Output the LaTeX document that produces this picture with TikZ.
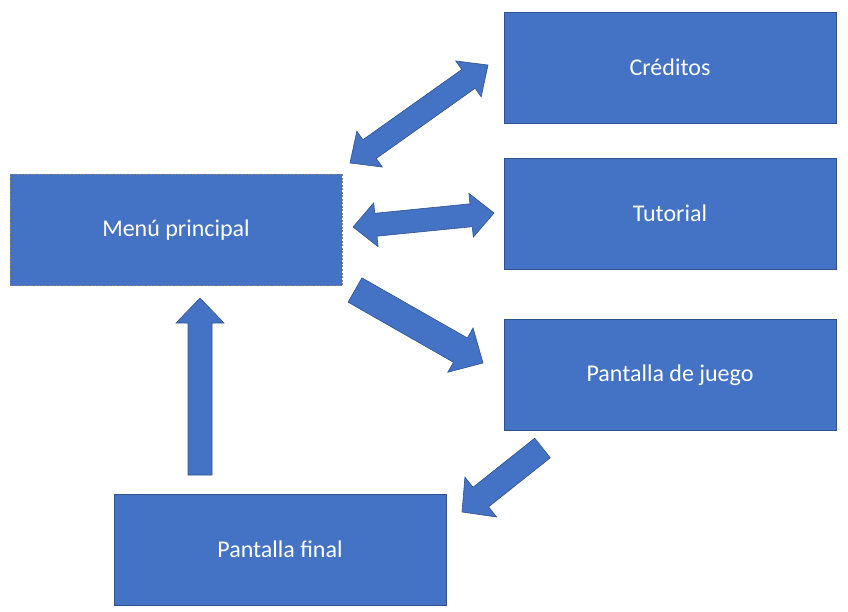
\documentclass[tikz,border=0pt]{standalone}
\usepackage{fontspec}
\setmainfont{Carlito}
\usetikzlibrary{calc}
\definecolor{boxfill}{HTML}{4472C4}
\definecolor{boxline}{HTML}{2F528F}
\definecolor{dashgray}{HTML}{7F7F7F}
\tikzset{
  screenbox/.style={draw=boxline, line width=0.75pt, fill=boxfill, minimum width=332pt, minimum height=111pt, inner sep=0pt, text=white, font=\fontsize{24}{28}\selectfont},
  mainbox/.style={screenbox, draw=dashgray, dashed, dash pattern=on 2pt off 1.5pt},
  blockarrow/.style={fill=boxfill, draw=boxline, line width=0.6pt, line join=miter}
}
% double block arrow between tips #1 and #2; head length #3, head half-width #4, shaft half-width #5
\newcommand{\dblarrow}[5]{%
  \coordinate (hA) at ($(#1)!#3!(#2)$);
  \coordinate (hB) at ($(#2)!#3!(#1)$);
  \draw[blockarrow] (#1) -- ($(hA)!#4!90:(#2)$) -- ($(hA)!#5!90:(#2)$) -- ($(hB)!#5!-90:(#1)$) -- ($(hB)!#4!-90:(#1)$) -- (#2)
    -- ($(hB)!#4!90:(#1)$) -- ($(hB)!#5!90:(#1)$) -- ($(hA)!#5!-90:(#2)$) -- ($(hA)!#4!-90:(#2)$) -- cycle;
}
% single block arrow from tail #1 to tip #2
\newcommand{\sglarrow}[5]{%
  \coordinate (hB) at ($(#2)!#3!(#1)$);
  \draw[blockarrow] ($(#1)!#5!90:(#2)$) -- ($(hB)!#5!-90:(#1)$) -- ($(hB)!#4!-90:(#1)$) -- (#2)
    -- ($(hB)!#4!90:(#1)$) -- ($(hB)!#5!90:(#1)$) -- ($(#1)!#5!-90:(#2)$) -- cycle;
}
\begin{document}
\begin{tikzpicture}[x=1pt,y=-1pt]
\useasboundingbox (0,0) rectangle (848,612);
\node[screenbox] (cred) at (670,67.5) {Créditos};
\node[screenbox] (tut) at (670,213.5) {Tutorial};
\node[screenbox] (juego) at (670,375) {Pantalla de juego};
\node[mainbox] (menu) at (176,230) {Menú principal};
\node[screenbox] (final) at (280,549.5) {Pantalla final};
% arrow end points
\coordinate (c1) at (488,65);
\coordinate (m1) at (350,163);
\coordinate (t2) at (494,213);
\coordinate (m2) at (353,227);
\coordinate (m3) at (355,290);
\coordinate (j3) at (483,363);
\coordinate (j4) at (542.5,448);
\coordinate (f4) at (462,512);
\coordinate (f5) at (200,475);
\coordinate (m5) at (200,298);
\dblarrow{c1}{m1}{24pt}{22pt}{11.5pt}
\dblarrow{t2}{m2}{23pt}{22pt}{11.5pt}
\sglarrow{m3}{j3}{26pt}{25.5pt}{14pt}
\sglarrow{j4}{f4}{24pt}{25.5pt}{12.5pt}
\sglarrow{f5}{m5}{25pt}{24pt}{12pt}
\end{tikzpicture}
\end{document}
